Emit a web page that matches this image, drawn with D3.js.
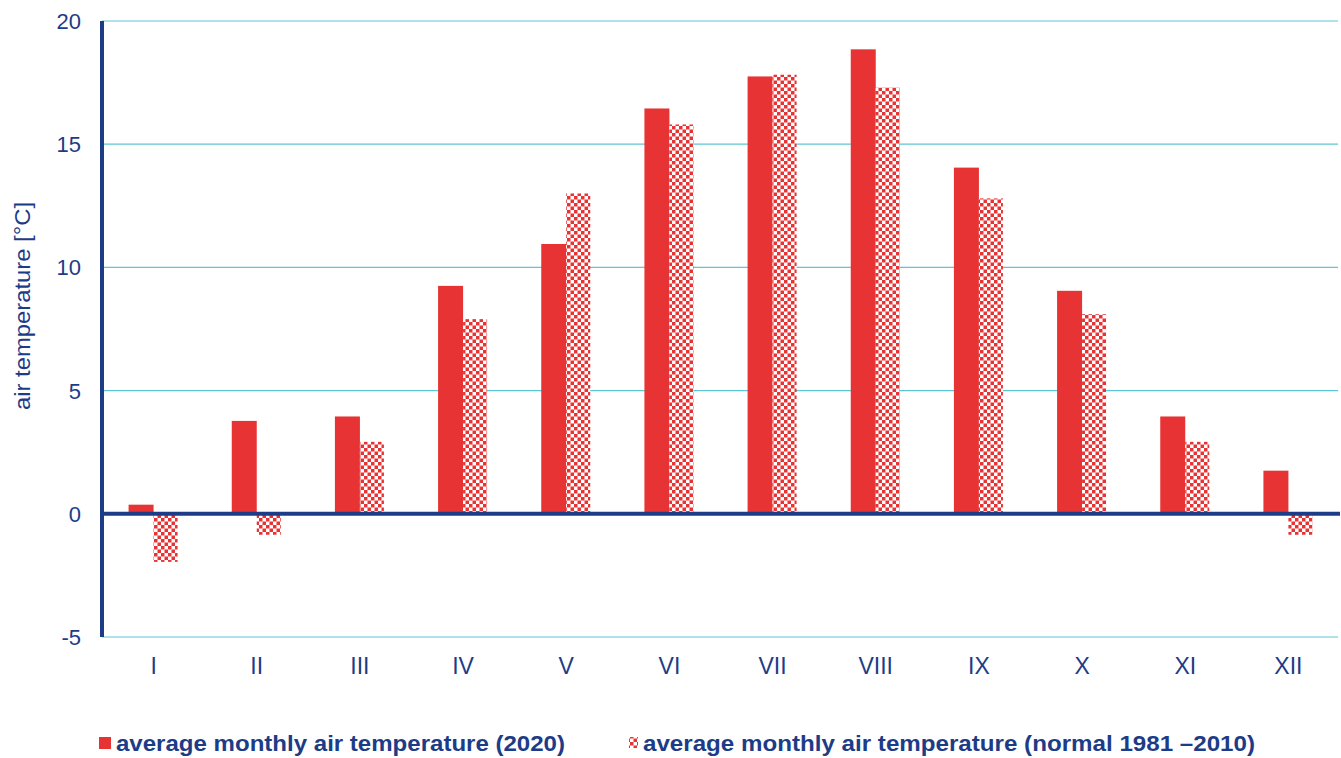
<!DOCTYPE html>
<html>
<head>
<meta charset="utf-8">
<script src="https://cdn.jsdelivr.net/npm/d3@7"></script>
<style>
  body { margin: 0; background: #fff; }
  svg { display: block; font-family: "Liberation Sans", Arial, sans-serif; }
</style>
</head>
<body>
<script>
const months = ['I','II','III','IV','V','VI','VII','VIII','IX','X','XI','XII']
const temp2020 = [0.37, 3.77, 3.95, 9.25, 10.95, 16.45, 17.75, 18.85, 14.05, 9.05, 3.95, 1.75]
const tempNormal = [-1.95, -0.85, 2.92, 7.9, 13.0, 15.8, 17.82, 17.3, 12.8, 8.1, 2.92, -0.85]
const yTicks = [-5, 0, 5, 10, 15, 20]
const legendLabels = ['average monthly air temperature (2020)', 'average monthly air temperature (normal 1981 \u20132010)']

const width = 1341, height = 758
const navy = '#1d3c87', red = '#e73333', grid = '#5ec6d6'
const margin = {top: 21, right: 1, bottom: 121, left: 102}

const svg = d3.select('body').append('svg')
  .attr('width', width).attr('height', height)

// checker pattern for the normal series
const defs = svg.append('defs')
const pat = defs.append('pattern')
  .attr('id', 'checker').attr('patternUnits', 'userSpaceOnUse')
  .attr('width', 7).attr('height', 7)
pat.append('rect').attr('width', 7).attr('height', 7).attr('fill', '#fff')
pat.append('rect').attr('width', 3.5).attr('height', 3.5).attr('fill', red)
pat.append('rect').attr('x', 3.5).attr('y', 3.5).attr('width', 3.5).attr('height', 3.5).attr('fill', red)

const x = d3.scaleBand().domain(months)
  .range([margin.left, width - margin.right])
const y = d3.scaleLinear().domain([-5, 20])
  .range([height - margin.bottom, margin.top])

const barW = 25

// gridlines
svg.append('g').selectAll('line')
  .data(yTicks.filter(t => t != 0))
  .join('line')
    .attr('x1', margin.left).attr('x2', width - 3)
    .attr('y1', d => y(d)).attr('y2', d => y(d))
    .attr('stroke', grid).attr('stroke-width', 1.2)

// y tick labels
svg.append('g').selectAll('text')
  .data(yTicks)
  .join('text')
    .attr('x', 81).attr('y', d => y(d) + 8)
    .attr('text-anchor', 'end')
    .attr('font-size', 22).attr('fill', navy)
    .text(d => d)

// y title
svg.append('text')
  .attr('transform', `translate(30,306) rotate(-90)`)
  .attr('text-anchor', 'middle')
  .attr('font-size', 22).attr('fill', navy)
  .attr('textLength', 208).attr('lengthAdjust', 'spacingAndGlyphs')
  .text('air temperature [°C]')

// bars
const bars = svg.append('g')
bars.selectAll('rect.y2020')
  .data(months)
  .join('rect').attr('class', 'y2020')
    .attr('x', d => x(d) + x.bandwidth()/2 - barW)
    .attr('width', barW)
    .attr('y', (d,i) => Math.min(y(temp2020[i]), y(0)))
    .attr('height', (d,i) => Math.abs(y(temp2020[i]) - y(0)))
    .attr('fill', red)
bars.selectAll('rect.norm')
  .data(months)
  .join('rect').attr('class', 'norm')
    .attr('x', d => x(d) + x.bandwidth()/2)
    .attr('width', barW - 1)
    .attr('y', (d,i) => Math.min(y(tempNormal[i]), y(0)))
    .attr('height', (d,i) => Math.abs(y(tempNormal[i]) - y(0)))
    .attr('fill', 'url(#checker)')

// zero line + y axis line
svg.append('line')
  .attr('x1', margin.left).attr('x2', width - 1)
  .attr('y1', y(0)).attr('y2', y(0))
  .attr('stroke', navy).attr('stroke-width', 4)
svg.append('line')
  .attr('x1', margin.left).attr('x2', margin.left)
  .attr('y1', y(20)).attr('y2', y(-5))
  .attr('stroke', navy).attr('stroke-width', 4)

// x labels
svg.append('g').selectAll('text')
  .data(months)
  .join('text')
    .attr('x', d => x(d) + x.bandwidth()/2)
    .attr('y', 674)
    .attr('text-anchor', 'middle')
    .attr('font-size', 23).attr('fill', navy)
    .text(d => d)

// legend
const leg = svg.append('g')
leg.append('rect').attr('x', 99).attr('y', 737).attr('width', 12).attr('height', 12).attr('fill', red)
leg.append('text').attr('x', 116).attr('y', 751)
  .attr('font-size', 22).attr('font-weight', 'bold').attr('fill', navy)
  .attr('textLength', 449).attr('lengthAdjust', 'spacingAndGlyphs')
  .text(legendLabels[0])
leg.append('rect').attr('x', 629).attr('y', 737).attr('width', 9).attr('height', 11).attr('fill', 'url(#checker)')
leg.append('text').attr('x', 643).attr('y', 751)
  .attr('font-size', 22).attr('font-weight', 'bold').attr('fill', navy)
  .attr('textLength', 612).attr('lengthAdjust', 'spacingAndGlyphs')
  .text(legendLabels[1])
</script>
</body>
</html>
